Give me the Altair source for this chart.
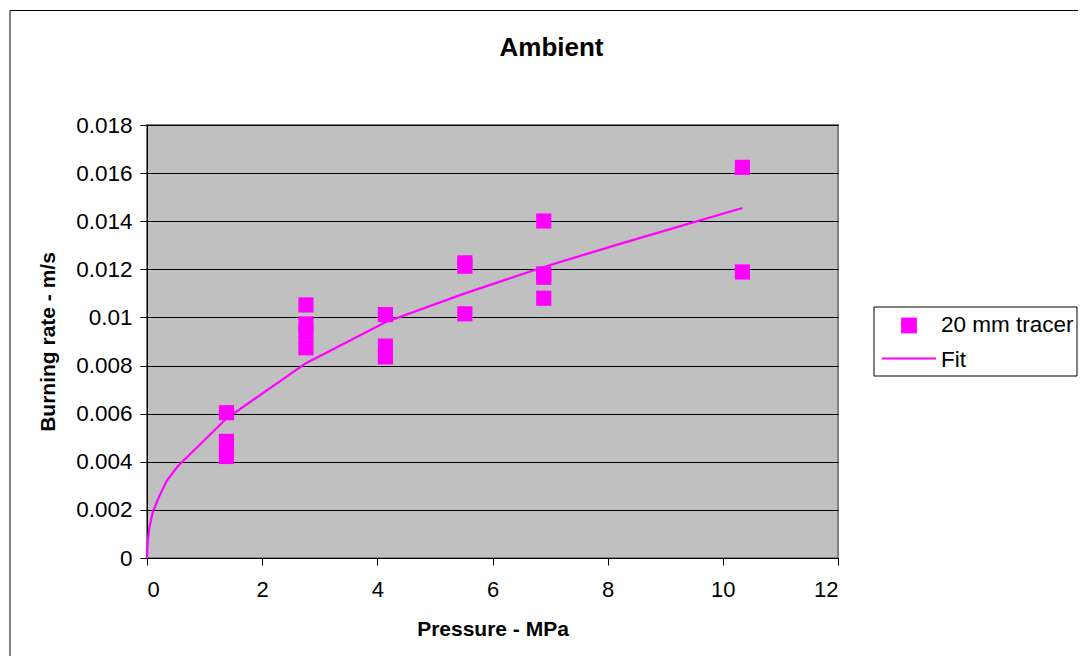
import altair as alt
import pandas as pd

# ---- data ----
pressure_pts = [1.38, 1.38, 1.38, 1.38,
                2.76, 2.76, 2.76, 2.76,
                4.14, 4.14, 4.14,
                5.52, 5.52, 5.52,
                6.89, 6.89, 6.89, 6.89,
                10.34, 10.34]
rate_pts = [0.00604, 0.00485, 0.00452, 0.00422,
            0.01052, 0.00973, 0.00936, 0.00874,
            0.01012, 0.00881, 0.00836,
            0.01227, 0.01213, 0.01015,
            0.01401, 0.01181, 0.01167, 0.01080,
            0.01624, 0.01189]

fit_pressure = [0, 0.01, 0.04, 0.1, 0.2, 0.34, 0.53, 1.38, 2.76, 4.14, 5.52, 6.89, 8.27, 10.34]
fit_rate = [0, 0.0006, 0.00125, 0.0019, 0.0025, 0.0032, 0.0038, 0.0058, 0.0081, 0.0098, 0.0110, 0.0121, 0.0131, 0.01455]

series_names = ["20 mm tracer", "Fit"]
x_ticks = [0, 2, 4, 6, 8, 10, 12]
y_ticks = [0, 0.002, 0.004, 0.006, 0.008, 0.010, 0.012, 0.014, 0.016, 0.018]

MAGENTA = "#FF00FF"
FONT = "Liberation Sans"

pts = pd.DataFrame({"pressure": pressure_pts, "rate": rate_pts, "series": series_names[0]})
fit = pd.DataFrame({"pressure": fit_pressure, "rate": fit_rate, "series": series_names[1]})

x_enc = alt.X("pressure:Q",
              scale=alt.Scale(domain=[0, 12], nice=False),
              axis=alt.Axis(values=x_ticks, format="~g", title="Pressure - MPa", grid=False,
                            labelFontSize=22, labelPadding=14, tickSize=7,
                            tickColor="black", domainColor="black",
                            labelColor="black", titleColor="black",
                            titleFontSize=21, titleFontWeight="bold",
                            titleX=345.5, titleY=71, titleBaseline="middle",
                            titleAlign="center"))
y_enc = alt.Y("rate:Q",
              scale=alt.Scale(domain=[0, 0.018], nice=False),
              axis=alt.Axis(values=y_ticks, format="~g", title="Burning rate - m/s",
                            grid=True, gridColor="black", gridWidth=1, gridOpacity=1,
                            labelFontSize=22.5, labelPadding=8, tickSize=7,
                            tickColor="black", domainColor="black",
                            labelColor="black", titleColor="black",
                            titleFontSize=21, titleFontWeight="bold",
                            titleX=-99, titleY=216.5, titleAngle=-90,
                            titleBaseline="middle", titleAlign="center"))

one = pd.DataFrame({"k": [0]})

frame = alt.Chart(one).mark_rect(fillOpacity=0, stroke="black", strokeWidth=1).encode(
    x=alt.value(-137), x2=alt.value(1300), y=alt.value(-114.5), y2=alt.value(800))

line = alt.Chart(fit).mark_line(color=MAGENTA, strokeWidth=2.2).encode(
    x=x_enc, y=y_enc, order="pressure:Q")

points = alt.Chart(pts).mark_point(shape="square", filled=True, size=230,
                                   color=MAGENTA, opacity=1).encode(
    x="pressure:Q", y="rate:Q")

# legend (drawn by hand, as in the reference)
leg_box = alt.Chart(one).mark_rect(fill="white", stroke="black", strokeWidth=1).encode(
    x=alt.value(727), x2=alt.value(930), y=alt.value(182), y2=alt.value(251))
leg_sq = alt.Chart(one).mark_point(shape="square", filled=True, size=250,
                                   color=MAGENTA, opacity=1).encode(
    x=alt.value(762), y=alt.value(200.5))
leg_ln = alt.Chart(one).mark_rule(color=MAGENTA, strokeWidth=2).encode(
    x=alt.value(735), x2=alt.value(789), y=alt.value(233.5))
leg_t1 = alt.Chart(pd.DataFrame({"t": [series_names[0]]})).mark_text(
    align="left", baseline="middle", fontSize=22.5, font=FONT, color="black").encode(
    x=alt.value(794), y=alt.value(200), text="t:N")
leg_t2 = alt.Chart(pd.DataFrame({"t": [series_names[1]]})).mark_text(
    align="left", baseline="middle", fontSize=22.5, font=FONT, color="black").encode(
    x=alt.value(794), y=alt.value(235), text="t:N")

chart = alt.layer(frame, line, points, leg_box, leg_sq, leg_ln, leg_t1, leg_t2).properties(
    width=691, height=433,
    title=alt.TitleParams("Ambient", fontSize=26, fontWeight="bold", font=FONT,
                          color="black", anchor="middle", frame="group", dx=59,
                          offset=0, dy=51),
    autosize=alt.AutoSizeParams(type="none"),
    padding={"left": 139, "top": 117, "right": 240, "bottom": 98},
    background="white",
).configure(font=FONT).configure_view(
    fill="#C0C0C0", stroke="#808080", strokeWidth=2
)

chart.save("out.html", embed_options={"renderer": "svg", "actions": False})
